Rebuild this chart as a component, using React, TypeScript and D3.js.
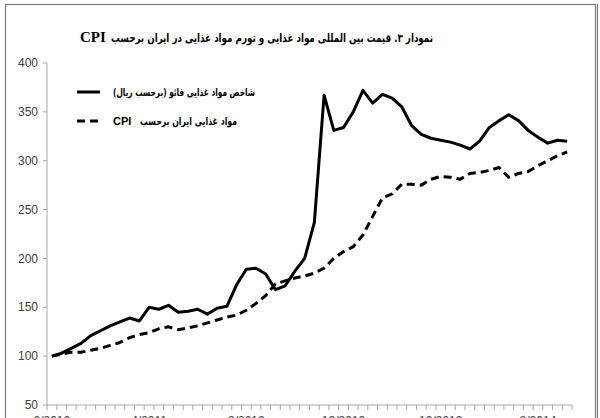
import React from "react";
import * as d3 from "d3";

const months: string[] = [];
{
  let m = 6, y = 2010;
  for (let i = 0; i < 54; i++) {
    months.push(`${m}/${y}`);
    m++;
    if (m > 12) { m = 1; y++; }
  }
}

const faoRial = [100, 103, 108, 113, 121, 126, 131, 135, 139, 136, 150, 148, 152, 145, 146, 148, 143, 149, 151, 173,
  189, 190, 184, 168, 172, 187, 200, 237, 367, 331, 334, 350, 372, 359, 368, 364, 355, 336, 327, 323,
  321, 319, 316, 312, 320, 334, 341, 347, 341, 331, 324, 318, 321, 320];

const iranCpi = [100, 102, 104, 104, 106, 108, 111, 114, 119, 122, 124, 128, 130, 127, 129, 131, 134, 137, 140, 142,
  147, 154, 162, 174, 177, 180, 182, 185, 190, 200, 207, 212, 224, 243, 262, 266, 276, 276, 275, 281,
  284, 283, 281, 287, 288, 290, 293, 283, 287, 289, 295, 300, 305, 309];

const yTicks = [50, 100, 150, 200, 250, 300, 350, 400];
const xLabelIdx = [0, 10, 20, 30, 40, 50];

const titleText = "نمودار ۳. قیمت بین المللی مواد غذایی و تورم مواد غذایی در ایران برحسب";
const legendSolid = "شاخص مواد غذایی فائو (برحسب ریال)";
const legendDashed = "مواد غذایی ایران برحسب";

export default function App() {
  const W = 600, H = 418;
  const x = d3.scaleBand<string>().domain(months).range([47, 572]);
  const y = d3.scaleLinear().domain([50, 400]).range([405, 63]);
  const cx = (i: number) => (x(months[i]) as number) + x.bandwidth() / 2;
  const line = d3.line<number>().x((_, i) => cx(i)).y((d) => y(d));
  const boundaries = d3.range(months.length + 1).map((k) => 47 + k * x.bandwidth());
  const axisColor = "#a8a8a8";
  const labelColor = "#404040";
  const persianFont = "'DejaVu Sans', sans-serif";

  return (
    <svg width={W} height={H} style={{ position: "absolute", left: 0, top: 0, background: "#fff" }}>
      <rect x={0} y={0} width={W} height={H} fill="#fff" />
      <rect x={5.5} y={4.5} width={590} height={460} fill="none" stroke="#7a7a7a" strokeWidth={1.2} />
      <line x1={597.5} x2={597.5} y1={4} y2={H} stroke="#7a7a7a" strokeWidth={1.2} />

      {/* title */}
      <text x={433} y={42} textAnchor="start" direction="rtl" fontFamily={persianFont} fontWeight="bold" fontSize={11.5} fill="#000"
        textLength={322} lengthAdjust="spacingAndGlyphs">
        {titleText}
      </text>
      <text x={80} y={42} textAnchor="start" fontFamily="'Liberation Serif', serif" fontWeight="bold" fontSize={15} fill="#000">
        CPI
      </text>

      {/* y axis */}
      <line x1={47} x2={47} y1={y(400)} y2={y(50)} stroke={axisColor} />
      {yTicks.map((t) => (
        <g key={t}>
          <line x1={43} x2={47} y1={y(t)} y2={y(t)} stroke={axisColor} />
          <text x={38} y={y(t)} dy="0.35em" textAnchor="end" fontFamily="'Liberation Sans', sans-serif" fontSize={12} fill={labelColor}>
            {t}
          </text>
        </g>
      ))}

      {/* x axis */}
      <line x1={47} x2={572} y1={y(50)} y2={y(50)} stroke={axisColor} />
      {boundaries.map((b, k) => (
        <line key={k} x1={b} x2={b} y1={y(50)} y2={y(50) + 5} stroke={axisColor} />
      ))}
      {xLabelIdx.map((i) => (
        <text key={i} x={cx(i)} y={425} textAnchor="middle" fontFamily="'Liberation Sans', sans-serif" fontSize={12} fill={labelColor}>
          {months[i]}
        </text>
      ))}

      {/* series */}
      <path d={line(iranCpi) ?? ""} fill="none" stroke="#000" strokeWidth={3} strokeDasharray="8,5" strokeLinejoin="round" />
      <path d={line(faoRial) ?? ""} fill="none" stroke="#000" strokeWidth={3} strokeLinejoin="round" />

      {/* legend */}
      <line x1={77} x2={100} y1={92} y2={92} stroke="#000" strokeWidth={3} />
      <text x={255} y={92} dy="0.35em" textAnchor="start" direction="rtl" fontFamily={persianFont} fontWeight="bold" fontSize={11} fill="#000"
        textLength={142} lengthAdjust="spacingAndGlyphs">
        {legendSolid}
      </text>
      <line x1={77} x2={100} y1={121} y2={121} stroke="#000" strokeWidth={3} strokeDasharray="8,5" />
      <text x={237} y={121} dy="0.35em" textAnchor="start" direction="rtl" fontFamily={persianFont} fontWeight="bold" fontSize={11} fill="#000"
        textLength={97} lengthAdjust="spacingAndGlyphs">
        {legendDashed}
      </text>
      <text x={113} y={121} dy="0.35em" textAnchor="start" fontFamily="'Liberation Sans', sans-serif" fontWeight="bold" fontSize={11} fill="#000">
        CPI
      </text>
    </svg>
  );
}
